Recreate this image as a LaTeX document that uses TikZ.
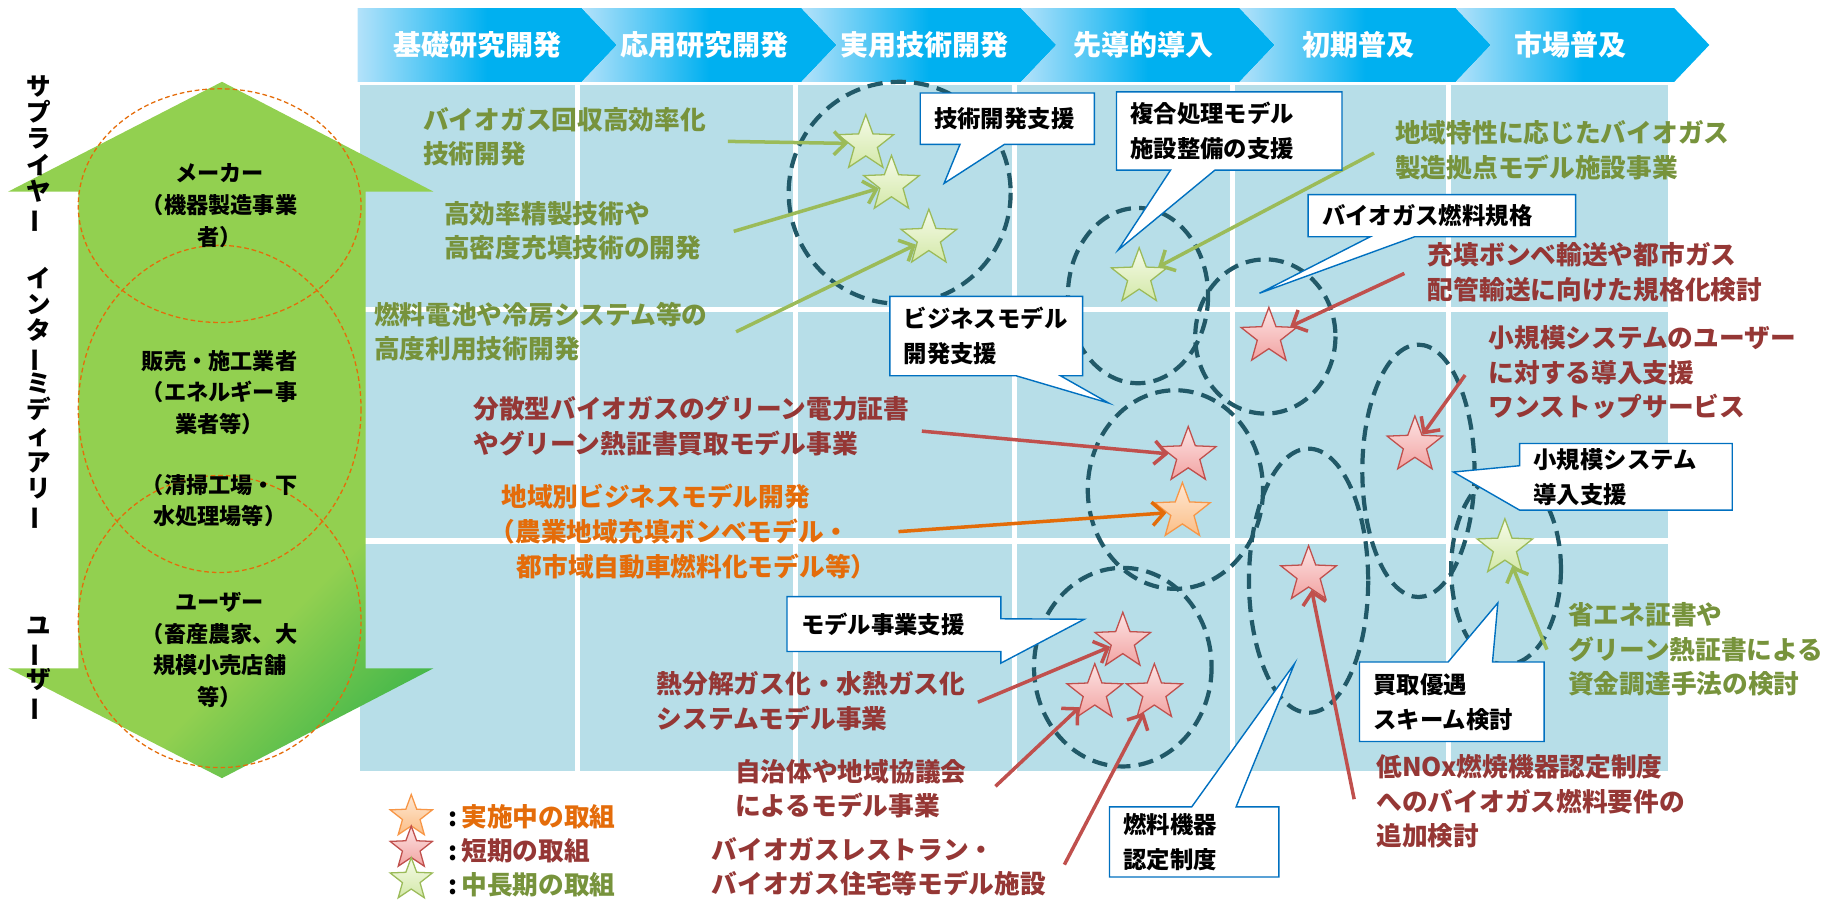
\documentclass[tikz,border=0pt]{standalone}
\usepackage{fontspec}
\usepackage{graphicx}
\setmainfont{Noto Sans CJK JP}
\usetikzlibrary{shapes.geometric,shapes.callouts,arrows.meta}
\definecolor{cellc}{HTML}{B7DEE8}
\definecolor{chevL}{HTML}{B3E2FA}
\definecolor{chevR}{HTML}{00B0F0}
\definecolor{ga}{HTML}{92D050}
\definecolor{gb}{HTML}{3DB54A}
\definecolor{ovalc}{HTML}{E46C0A}
\definecolor{tealc}{HTML}{215968}
\definecolor{gtxt}{HTML}{77933C}
\definecolor{rtxt}{HTML}{953735}
\definecolor{otxt}{HTML}{E46C0A}
\definecolor{garr}{HTML}{9BBB59}
\definecolor{rarr}{HTML}{C0504D}
\definecolor{oarr}{HTML}{E36C09}
\definecolor{callc}{HTML}{0070C0}
\definecolor{gs1}{HTML}{F6FBE9}
\definecolor{gs2}{HTML}{D3E8A8}
\definecolor{rs1}{HTML}{FCE4E4}
\definecolor{rs2}{HTML}{F2A3A2}
\definecolor{os1}{HTML}{FEE8D4}
\definecolor{os2}{HTML}{FBBE86}
\definecolor{ostarb}{HTML}{F79646}
\pgfdeclarehorizontalshading{chevsh}{100bp}{color(0bp)=(chevL);color(25bp)=(chevL);color(50bp)=(chevR);color(100bp)=(chevR)}
\pgfdeclarehorizontalshading{greensh}{100bp}{color(0bp)=(ga);color(66bp)=(ga);color(80bp)=(gb);color(100bp)=(gb)}
\newcommand{\vbarjp}{\rotatebox[origin=c]{90}{ー}}
\begin{document}
\begin{tikzpicture}[x=1pt,y=-1pt,
  every node/.style={inner sep=0pt},
  htext/.style={text=white, font=\fontsize{24}{26}\selectfont\bfseries},
  atext/.style={align=center, font=\fontsize{19}{27}\selectfont\bfseries},
  vtext/.style={align=center, font=\fontsize{21}{22.5}\selectfont\bfseries},
  oval/.style={draw=ovalc, line width=1.1pt, dash pattern=on 4pt off 2.5pt},
  tealoval/.style={draw=tealc, line width=3.6pt, dash pattern=on 13pt off 7pt},
  body/.style={align=left, anchor=west, font=\fontsize{22}{29.5}\selectfont\bfseries},
  gt/.style={body, text=gtxt}, rt/.style={body, text=rtxt}, ot/.style={body, text=otxt},
  starbase/.style={star, star points=5, star point ratio=2.4, minimum size=50pt, line width=1.1pt},
  gstar/.style={starbase, draw=garr, top color=gs1, bottom color=gs2},
  rstar/.style={starbase, draw=rarr, top color=rs1, bottom color=rs2},
  ostar/.style={starbase, draw=ostarb, top color=os1, bottom color=os2},
  legstar/.style={minimum size=38pt},
  tip/.style={-{Straight Barb[length=10pt,width=20pt]}},
  garrow/.style={draw=garr, line width=3pt, tip},
  rarrow/.style={draw=rarr, line width=3pt, tip},
  oarrow/.style={draw=oarr, line width=3pt, tip},
  callbox/.style={rectangle callout, draw=callc, fill=white, line width=1.2pt,
    callout pointer width=38pt, inner xsep=12pt, inner ysep=0pt, align=left,
    anchor=north west, font=\fontsize{20}{30}\selectfont\bfseries},
  legtext/.style={anchor=west, font=\fontsize{22}{24}\selectfont\bfseries}
]
\useasboundingbox (0,0) rectangle (1568,771);

% header chevrons
\shade[shading=chevsh] (306,7) -- (498,7) -- (528,38.5) -- (498,70) -- (306,70) -- cycle;
\foreach \a/\b in {498/686,686/874,874/1061,1061/1246,1246/1433}
  \shade[shading=chevsh] (\a,7) -- (\b,7) -- (\b+30,38.5) -- (\b,70) -- (\a,70) -- (\a+30,38.5) -- cycle;
\node[htext] (h1) at (409,38.5) {基礎研究開発};
\node[htext] (h2) at (603,38.5) {応用研究開発};
\node[htext] (h3) at (791,38.5) {実用技術開発};
\node[htext] (h4) at (979,38.5) {先導的導入};
\node[htext] (h5) at (1163,38.5) {初期普及};
\node[htext] (h6) at (1344,38.5) {市場普及};

% grid
\fill[cellc] (308,73) rectangle (1428,660);
\foreach \x in {494,681,868,1055,1240}
  \draw[white, line width=4.5pt] (\x,73) -- (\x,660);
\foreach \y in {265,463}
  \draw[white, line width=4.5pt] (308,\y) -- (1428,\y);

% green double arrow
\shade[shading=greensh, shading angle=-45] (190,70) -- (371,164) -- (313,164) -- (313,572) -- (371,572) -- (190,666) -- (7,572) -- (67,572) -- (67,164) -- (7,164) -- cycle;
\draw[oval] (188,176) ellipse [x radius=121, y radius=100];
\draw[oval] (188,350) ellipse [x radius=121, y radius=140];
\draw[oval] (188,532) ellipse [x radius=121, y radius=125];
\node[atext] (m1) at (188,176) {メーカー\\（機器製造事業\\者）};
\node[atext] (m2) at (188,336) {販売・施工業者\\（エネルギー事\\業者等）};
\node[atext] (m3) at (188,428.5) {（清掃工場・下\\水処理場等）};
\node[atext] (m4) at (188,556.5) {ユーザー\\（畜産農家、大\\規模小売店舗\\等）};

% vertical labels
\node[vtext] (v1) at (33,132) {サ\\プ\\ラ\\イ\\ヤ\\\vbarjp};
\node[vtext] (v2) at (33,341) {イ\\ン\\タ\\\vbarjp\\ミ\\デ\\ィ\\ア\\リ\\\vbarjp};
\node[vtext] (v3) at (33,573) {ユ\\\vbarjp\\ザ\\\vbarjp};

% dashed teal ovals
\draw[tealoval] (770,165) ellipse [x radius=95, y radius=95];
\draw[tealoval] (974,253) ellipse [x radius=60, y radius=75];
\draw[tealoval] (1083,288) ellipse [x radius=60, y radius=66];
\draw[tealoval] (1006,419) ellipse [x radius=75, y radius=85];
\draw[tealoval] (961,571) ellipse [x radius=76, y radius=85];
\draw[tealoval] (1120,497) ellipse [x radius=51, y radius=113];
\draw[tealoval] (1214,403) ellipse [x radius=48, y radius=108];
\draw[tealoval] (1289,487) ellipse [x radius=47, y radius=82];

% stars
\node[gstar] (s1) at (741,123) {};
\node[gstar] (s2) at (763,158) {};
\node[gstar] (s3) at (795,204) {};
\node[gstar] (s4) at (975,237) {};
\node[rstar] (s5) at (1086,288) {};
\node[rstar] (s6) at (1017,390) {};
\node[ostar] (s7) at (1012,438) {};
\node[rstar] (s8) at (1211,381) {};
\node[gstar] (s9) at (1288,469) {};
\node[rstar] (s10) at (1120,492) {};
\node[rstar] (s11) at (961,549) {};
\node[rstar] (s12) at (937,593) {};
\node[rstar] (s13) at (988,593) {};

% legend
\node[ostar, legstar] (l1) at (352,699) {};
\node[rstar, legstar] (l2) at (352,726) {};
\node[gstar, legstar] (l3) at (352,753) {};
\node[legtext, text=otxt] (lt1) at (384,699) {\textcolor{black}{:}\hspace{3pt}実施中の取組};
\node[legtext, text=rtxt] (lt2) at (384,728) {\textcolor{black}{:}\hspace{3pt}短期の取組};
\node[legtext, text=gtxt] (lt3) at (384,757) {\textcolor{black}{:}\hspace{3pt}中長期の取組};

% texts
\node[gt] (t1) at (362,117) {バイオガス回収高効率化\\技術開発};
\node[gt] (t2) at (380,197.5) {高効率精製技術や\\高密度充填技術の開発};
\node[gt] (t3) at (320,284) {燃料電池や冷房システム等の\\高度利用技術開発};
\node[gt] (t4) at (1194,128.5) {地域特性に応じたバイオガス\\製造拠点モデル施設事業};
\node[rt] (t5) at (1222,233) {充填ボンベ輸送や都市ガス\\配管輸送に向けた規格化検討};
\node[rt] (t6) at (1274,319) {小規模システムのユーザー\\に対する導入支援\\ワンストップサービス};
\node[rt] (t7) at (405,364.5) {分散型バイオガスのグリーン電力証書\\やグリーン熱証書買取モデル事業};
\node[ot] (t8a) at (429,425) {地域別ビジネスモデル開発};
\node[ot] (t8b) at (419,455) {（農業地域充填ボンベモデル・};
\node[ot] (t8c) at (442,485) {都市域自動車燃料化モデル等）};
\node[rt] (t9) at (562,600) {熱分解ガス化・水熱ガス化\\システムモデル事業};
\node[rt] (t10) at (629,675) {自治体や地域協議会\\によるモデル事業};
\node[rt] (t11) at (609,742) {バイオガスレストラン・\\バイオガス住宅等モデル施設};
\node[rt] (t12) at (1178,686) {低NOx燃焼機器認定制度\\へのバイオガス燃料要件の\\追加検討};
\node[gt] (t13) at (1342,556) {省エネ証書や\\グリーン熱証書による\\資金調達手法の検討};

% arrows
\coordinate (a1) at (623,121);
\coordinate (a2) at (628,198);
\coordinate (a3) at (630,284);
\coordinate (a4) at (1176,131);
\coordinate (a5) at (1202,234);
\coordinate (a6) at (1254,321);
\coordinate (a7) at (789,369);
\coordinate (a8) at (769,455);
\coordinate (a9) at (837,601);
\coordinate (a10) at (852,673);
\coordinate (a11) at (911,740);
\coordinate (a12) at (1159,684);
\coordinate (a13) at (1324,556);
\draw[garrow] (a1) -- (s1);
\draw[garrow] (a2) -- (s2);
\draw[garrow] (a3) -- (s3);
\draw[garrow] (a4) -- (s4);
\draw[garrow] (a13) -- (s9);
\draw[rarrow] (a5) -- (s5);
\draw[rarrow] (a6) -- (s8);
\draw[rarrow] (a7) -- (s6);
\draw[oarrow] (a8) -- (s7);
\draw[rarrow] (a9) -- (s11);
\draw[rarrow] (a10) -- (s12);
\draw[rarrow] (a11) -- (s13);
\draw[rarrow] (a12) -- (s10);

% callouts
\coordinate (pA) at (808,157);
\coordinate (pB) at (957,214);
\coordinate (pC) at (1078,251);
\coordinate (pD) at (949,345);
\coordinate (pE) at (1244,404);
\coordinate (pF) at (928,530);
\coordinate (pG) at (1282,516);
\coordinate (pH) at (1108,568);
\node[callbox, text width=125pt, minimum height=44pt, callout absolute pointer={(pA)}] (cA) at (787,79) {技術開発支援};
\node[callbox, text width=169pt, minimum height=67pt, callout absolute pointer={(pB)}] (cB) at (955,78) {複合処理モデル\\施設整備の支援};
\node[callbox, text width=205pt, minimum height=36pt, callout absolute pointer={(pC)}] (cC) at (1119,166) {バイオガス燃料規格};
\node[callbox, text width=141pt, minimum height=68pt, callout absolute pointer={(pD)}] (cD) at (761,253) {ビジネスモデル\\開発支援};
\node[callbox, text width=158pt, minimum height=57pt, callout absolute pointer={(pE)}] (cE) at (1300,379) {小規模システム\\導入支援};
\node[callbox, text width=159pt, minimum height=47pt, callout absolute pointer={(pF)}] (cF) at (673,510) {モデル事業支援};
\node[callbox, text width=134pt, minimum height=68pt, callout absolute pointer={(pG)}] (cG) at (1163,566) {買取優遇\\スキーム検討};
\node[callbox, text width=121pt, minimum height=60pt, callout absolute pointer={(pH)}] (cH) at (949,690) {燃料機器\\認定制度};
\end{tikzpicture}
\end{document}
